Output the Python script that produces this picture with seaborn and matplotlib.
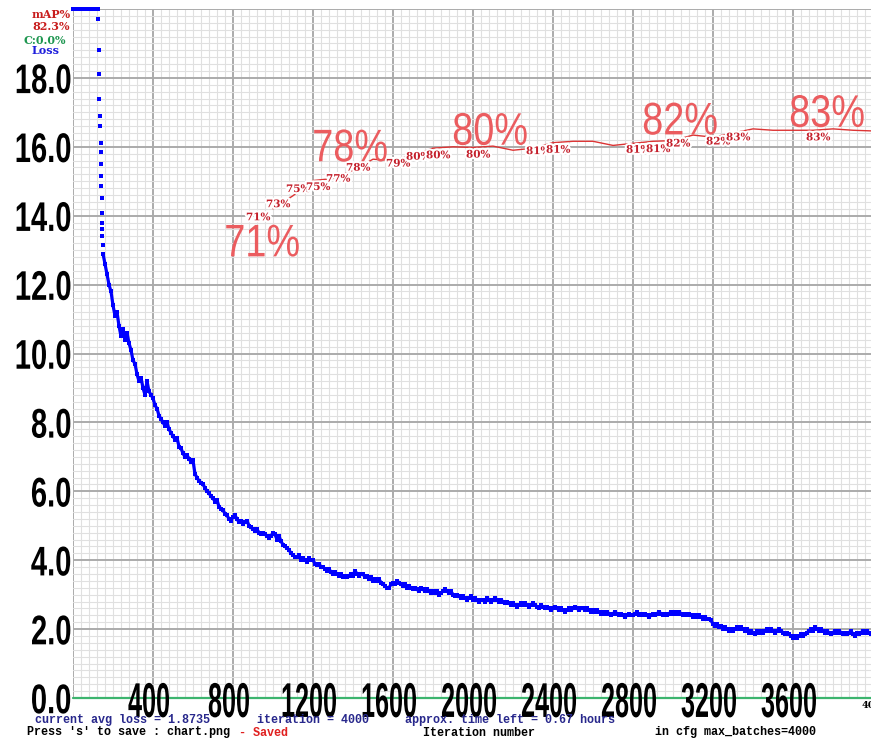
import numpy as np
import pandas as pd
import matplotlib
matplotlib.use("Agg")
import matplotlib.pyplot as plt
import seaborn as sns
from matplotlib.patheffects import AbstractPathEffect, withStroke
from matplotlib.transforms import Affine2D
from matplotlib.ticker import MultipleLocator

# ------------------------------------------------------------------ data
max_batches = 4000

# warm-up losses (above the 20.0 ceiling, drawn clipped at the top edge)
warm_iters = [0, 10, 20, 30, 40, 50, 60, 70, 80, 90, 100, 110, 120]
warm_loss = [3000, 2400, 1700, 900, 420, 160, 85, 48, 33, 27, 24, 22.5, 21.0]

# steep fall at the end of warm-up
burn_iters = [122, 124, 126, 128, 130, 132, 134, 136, 138, 139,
              140, 141, 142, 143, 144, 145, 146, 147, 148, 149]
burn_loss = [24.0, 21.5, 19.7, 18.8, 18.1, 17.4, 16.9, 16.6, 16.1, 15.85,
             15.5, 15.15, 14.86, 14.5, 14.08, 13.8, 13.6, 13.4, 13.15, 12.9]

# loss every 10 iterations, from iteration 150 to 4000
loss_start, loss_step = 150, 10
loss_vals = [
    12.9, 12.6, 12.3, 12.0, 11.8, 11.4, 11.1, 11.2, 10.8, 10.5,
    10.7, 10.4, 10.6, 10.3, 10.1, 9.8, 9.7, 9.4, 9.2, 9.3,
    9.0, 8.8, 9.2, 8.9, 8.8, 8.7, 8.5, 8.4, 8.2, 8.1,
    8.0, 7.9, 8.0, 7.8, 7.7, 7.6, 7.5, 7.55, 7.3, 7.25,
    7.1, 7.0, 7.05, 6.95, 6.85, 6.9, 6.5, 6.4, 6.3, 6.25,
    6.2, 6.1, 6.0, 5.95, 5.85, 5.8, 5.7, 5.75, 5.55, 5.5,
    5.45, 5.35, 5.3, 5.2, 5.15, 5.25, 5.3, 5.2, 5.1, 5.15,
    5.05, 5.1, 5.15, 5.0, 4.95, 4.9, 4.85, 4.9, 4.8, 4.75,
    4.8, 4.75, 4.7, 4.65, 4.7, 4.8, 4.75, 4.6, 4.7, 4.55,
    4.45, 4.4, 4.35, 4.3, 4.2, 4.15, 4.1, 4.1, 4.15, 4.0,
    4.05, 4.0, 3.95, 4.05, 4.0, 4.0, 3.9, 3.85, 3.9, 3.8,
    3.8, 3.75, 3.7, 3.75, 3.65, 3.6, 3.65, 3.6, 3.55, 3.6,
    3.5, 3.55, 3.5, 3.55, 3.6, 3.55, 3.7, 3.6, 3.55, 3.6,
    3.6, 3.5, 3.55, 3.45, 3.5, 3.4, 3.45, 3.4, 3.45, 3.35,
    3.3, 3.25, 3.2, 3.2, 3.3, 3.35, 3.3, 3.4, 3.35, 3.3,
    3.25, 3.3, 3.2, 3.25, 3.2, 3.15, 3.2, 3.15, 3.1, 3.2,
    3.15, 3.1, 3.15, 3.1, 3.05, 3.1, 3.05, 3.1, 3.0, 3.05,
    3.1, 3.15, 3.1, 3.05, 3.1, 3.0, 2.95, 3.0, 2.95, 2.9,
    2.95, 2.9, 2.85, 2.9, 2.95, 2.85, 2.9, 2.85, 2.8, 2.85,
    2.85, 2.8, 2.9, 2.85, 2.8, 2.85, 2.9, 2.85, 2.8, 2.85,
    2.8, 2.75, 2.8, 2.75, 2.7, 2.75, 2.7, 2.65, 2.7, 2.75,
    2.7, 2.75, 2.7, 2.65, 2.7, 2.75, 2.7, 2.65, 2.6, 2.7,
    2.65, 2.6, 2.65, 2.6, 2.55, 2.6, 2.65, 2.6, 2.55, 2.6,
    2.55, 2.5, 2.55, 2.6, 2.55, 2.6, 2.65, 2.6, 2.55, 2.6,
    2.6, 2.55, 2.6, 2.55, 2.5, 2.55, 2.5, 2.55, 2.5, 2.45,
    2.5, 2.45, 2.5, 2.45, 2.4, 2.45, 2.5, 2.45, 2.4, 2.45,
    2.4, 2.35, 2.4, 2.45, 2.4, 2.4, 2.45, 2.5, 2.4, 2.45,
    2.4, 2.45, 2.4, 2.35, 2.4, 2.45, 2.4, 2.45, 2.5, 2.45,
    2.4, 2.45, 2.4, 2.45, 2.5, 2.45, 2.5, 2.45, 2.5, 2.45,
    2.4, 2.45, 2.4, 2.45, 2.4, 2.35, 2.4, 2.35, 2.4, 2.35,
    2.3, 2.35, 2.3, 2.3, 2.25, 2.15, 2.1, 2.15, 2.05, 2.1,
    2.0, 2.05, 2.0, 1.95, 2.0, 1.95, 2.0, 2.05, 2.0, 2.05,
    2.0, 1.95, 2.0, 1.9, 1.95, 1.9, 1.85, 1.95, 1.9, 1.95,
    1.9, 1.95, 2.0, 1.95, 2.0, 1.95, 1.9, 1.95, 2.0, 1.95,
    1.9, 1.85, 1.9, 1.85, 1.8, 1.75, 1.8, 1.75, 1.8, 1.85,
    1.8, 1.85, 1.9, 1.95, 2.0, 1.95, 2.05, 2.0, 1.95, 2.0,
    1.95, 1.9, 1.95, 1.9, 1.85, 1.9, 1.95, 1.9, 1.95, 1.9,
    1.85, 1.9, 1.85, 1.9, 1.95, 1.85, 1.8, 1.9, 1.85, 1.9,
    1.95, 1.9, 1.95, 1.9, 1.85, 1.87,
]

# mAP (%) every 100 iterations from 1000 (end of burn_in)
map_iters = list(range(1000, 4001, 100))
map_vals = [71.0, 72.9, 75.1, 75.4, 76.6, 78.2, 78.0, 78.8, 79.8, 80.0,
            79.9, 80.1, 79.5, 79.8, 80.6, 80.8, 80.8, 80.2, 80.5, 80.8,
            80.9, 81.7, 81.4, 82.0, 82.6, 82.4, 82.4, 82.4, 82.6, 82.4, 82.3]
# iterations at which darknet printed the small mAP text
map_text_iters = [1000, 1100, 1200, 1300, 1400, 1500, 1700, 1800, 1900,
                  2100, 2400, 2500, 2900, 3000, 3100, 3300, 3400, 3800]

# hand-added large annotations
big_notes = ["71%", "78%", "80%", "82%", "83%"]
big_note_iter = [945, 1385, 2085, 3035, 3770]
big_note_level = [64.1, 77.9, 80.3, 81.8, 82.9]

x_tick_vals = [400, 800, 1200, 1600, 2000, 2400, 2800, 3200, 3600]
x_tick_labels = ["400", "800", "1200", "1600", "2000", "2400", "2800", "3200", "3600"]
y_tick_vals = [0, 2, 4, 6, 8, 10, 12, 14, 16, 18, 20]
y_tick_labels = ["0.0", "2.0", "4.0", "6.0", "8.0", "10.0", "12.0", "14.0", "16.0", "18.0", ""]

final_map = "82.3%"
avg_loss = "1.8735"
time_left = "0.67"

# ------------------------------------------------------------------ helpers
class Stretch(AbstractPathEffect):
    """Draw glyph outlines rescaled (tall, narrow Hershey-like digits)."""
    def __init__(self, sx=1.0, sy=1.0, xpivot="center", ypivot="center"):
        super().__init__()
        self.sx, self.sy, self.xp, self.yp = sx, sy, xpivot, ypivot

    def draw_path(self, renderer, gc, tpath, affine, rgbFace=None):
        ext = tpath.get_extents()
        px = {"center": (ext.x0 + ext.x1) / 2, "right": ext.x1, "left": ext.x0}[self.xp]
        py = {"center": (ext.y0 + ext.y1) / 2, "baseline": 0.0}[self.yp]
        pre = (Affine2D().translate(-px, -py).scale(self.sx, self.sy)
               .translate(px, py))
        renderer.draw_path(gc, tpath, pre + affine, rgbFace)


sns.set_theme(style="white")
plt.rcParams["font.family"] = ["Liberation Sans", "DejaVu Sans"]

W, H = 871, 740
fig = plt.figure(figsize=(W / 100, H / 100), dpi=100)
fig.patch.set_facecolor("white")
ax = fig.add_axes([73 / W, 42 / H, 800 / W, 689 / H])

# ------------------------------------------------------------------ loss
iters_main = np.arange(loss_start, loss_start + loss_step * len(loss_vals), loss_step)
loss_df = pd.DataFrame({
    "iteration": np.concatenate([warm_iters, burn_iters, iters_main]),
    "loss": np.concatenate([warm_loss, burn_loss, loss_vals]),
})
loss_df["shown"] = np.minimum(loss_df["loss"], 20.0)
main_df = loss_df[loss_df["iteration"] >= loss_start]

sns.lineplot(data=main_df, x="iteration", y="shown", ax=ax, color="#0000FF",
             lw=2.3, legend=False, zorder=4)
sns.scatterplot(data=loss_df, x="iteration", y="shown", ax=ax, color="#0000FF",
                s=6, marker="s", linewidth=0, legend=False, clip_on=False, zorder=4)

ax.set_xlim(0, max_batches)
ax.set_ylim(0, 20)
ax.set_xlabel("")
ax.set_ylabel("")
ax.xaxis.set_major_locator(MultipleLocator(400))
ax.xaxis.set_minor_locator(MultipleLocator(40))
ax.set_yticks(y_tick_vals)
ax.yaxis.set_minor_locator(MultipleLocator(0.2))
ax.grid(which="minor", color="#e0e0e0", lw=0.8)
ax.grid(which="major", color="#ababab", lw=1.4)
ax.set_axisbelow(True)
for sp in ax.spines.values():
    sp.set_visible(False)
ax.tick_params(which="both", length=0)
ax.set_xticklabels([])
ax.set_yticklabels(y_tick_labels)
ax.tick_params(axis="y", pad=1)
for lbl in ax.get_yticklabels():
    lbl.set_fontsize(21)
    lbl.set_fontweight("bold")
    lbl.set_color("black")
    lbl.set_path_effects([Stretch(1.0, 1.42, "right", "center")])

ax.axhline(0, color="#3cb46e", lw=1.6, zorder=3, clip_on=False)

for t, s in zip(x_tick_vals, x_tick_labels):
    ax.text(t - 20, -0.55, s, ha="center", va="baseline", fontsize=18.5,
            fontweight="bold", color="black", clip_on=False, zorder=6,
            path_effects=[Stretch(0.98, 1.9, "center", "baseline")])

# ------------------------------------------------------------------ mAP
ax2 = ax.twinx()
sns.lineplot(x=map_iters, y=map_vals, ax=ax2, color="#dc3434", lw=1.0, zorder=5)
ax2.set_ylim(0, 100)
ax2.set_xlim(0, max_batches)
ax2.set_yticks([])
ax2.set_ylabel("")
for sp in ax2.spines.values():
    sp.set_visible(False)

halo = [withStroke(linewidth=3, foreground="white")]
map_lookup = dict(zip(map_iters, map_vals))
for it in map_text_iters:
    v = map_lookup[it]
    ax2.text(it - 135, v - 1.3, f"{v:.0f}%", ha="left", va="center",
             fontsize=7.5, fontweight="bold", family="DejaVu Serif",
             color="#c41e2a", path_effects=halo, zorder=6)

for s, it, lv in zip(big_notes, big_note_iter, big_note_level):
    ax2.text(it, lv, s, ha="center", va="baseline", fontsize=31,
             color="#eb5c5f", zorder=7,
             path_effects=[Stretch(0.88, 1.06, "center", "baseline")])

# ------------------------------------------------------------------ header / footer texts
def ftext(xpx, ypx, s, **kw):
    fig.text(xpx / W, 1 - ypx / H, s, va="center", **kw)

serif_b = dict(family="DejaVu Serif", fontweight="bold", fontsize=8)
ftext(32, 15, "mAP%", color="#c81e1e", **serif_b)
ftext(32, 27, final_map, color="#c81e1e", **serif_b)
ftext(23, 40, "C:0.0%", color="#1e9650", **serif_b)
ftext(32, 51, "Loss", color="#1e1edc", **serif_b)

mono = dict(family="Liberation Mono", fontweight="bold", fontsize=8.5)
ftext(35, 720, f"current avg loss = {avg_loss}", color="#28288c", **mono)
ftext(257, 720, f"iteration = {max_batches}", color="#28288c", **mono)
ftext(405, 720, f"approx. time left = {time_left} hours", color="#28288c", **mono)
ftext(27, 732.5, "Press 's' to save : chart.png", color="black", **mono)
ftext(239, 732.5, "- Saved", color="#e02020", **mono)
ftext(423, 732.5, "Iteration number", color="black", **mono)
ftext(655, 732.5, f"in cfg max_batches={max_batches}", color="black", **mono)
ftext(862, 706, str(max_batches), color="black", family="DejaVu Serif",
      fontweight="bold", fontsize=7)

fig.savefig("out.png", dpi=100, facecolor="white")
